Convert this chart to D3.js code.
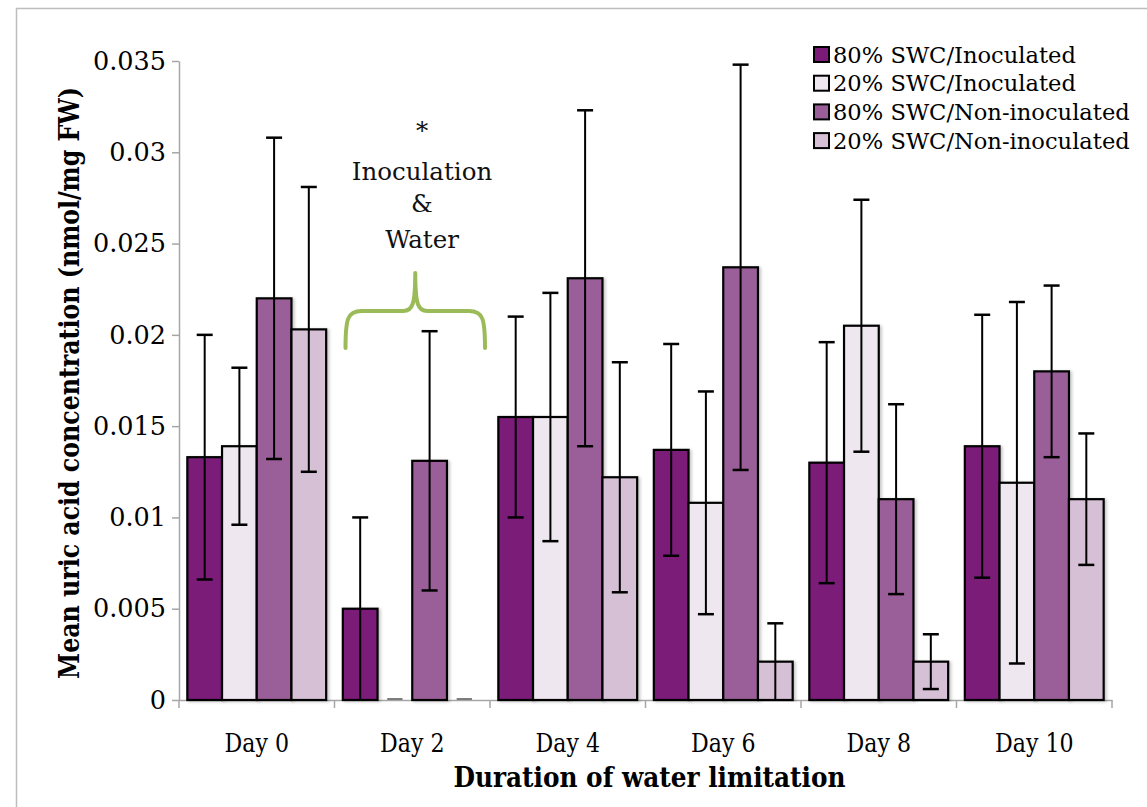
<!DOCTYPE html>
<html>
<head>
<meta charset="utf-8">
<script src="https://cdn.jsdelivr.net/npm/d3@7"></script>
<style>
  html, body { margin: 0; padding: 0; background: #ffffff; }
  svg { display: block; }
</style>
</head>
<body>
<svg id="chart" width="1147" height="807"></svg>
<script>
// ---------------- data ----------------
const categories = ["Day 0", "Day 2", "Day 4", "Day 6", "Day 8", "Day 10"];
const seriesNames = ["80% SWC/Inoculated", "20% SWC/Inoculated", "80% SWC/Non-inoculated", "20% SWC/Non-inoculated"];
const inoc80 = [0.0133, 0.0050, 0.0155, 0.0137, 0.0130, 0.0139];
const inoc20 = [0.0139, 0.0000, 0.0155, 0.0108, 0.0205, 0.0119];
const non80  = [0.0220, 0.0131, 0.0231, 0.0237, 0.0110, 0.0180];
const non20  = [0.0203, 0.0000, 0.0122, 0.0021, 0.0021, 0.0110];
const inoc80Err = [0.0067, 0.0050, 0.0055, 0.0058, 0.0066, 0.0072];
const inoc20Err = [0.0043, 0.0000, 0.0068, 0.0061, 0.0069, 0.0099];
const non80Err  = [0.0088, 0.0071, 0.0092, 0.0111, 0.0052, 0.0047];
const non20Err  = [0.0078, 0.0000, 0.0063, 0.0021, 0.0015, 0.0036];
const yTickValues = [0, 0.005, 0.01, 0.015, 0.02, 0.025, 0.03, 0.035];
const yTickLabels = ["0", "0.005", "0.01", "0.015", "0.02", "0.025", "0.03", "0.035"];
const annotationLines = ["*", "Inoculation", "&", "Water"];
const yTitle = "Mean uric acid concentration (nmol/mg FW)";
const xTitle = "Duration of water limitation";

const seriesValues = [inoc80, inoc20, non80, non20];
const seriesErrors = [inoc80Err, inoc20Err, non80Err, non20Err];
const colors = ["#7b1a79", "#efe7ef", "#9a5f98", "#d6c0d6"];

// ---------------- layout ----------------
const svg = d3.select("#chart");
const serif = "'DejaVu Serif', 'Liberation Serif', serif";
const pLeft = 179, pRight = 1112, pTop = 61, pBottom = 700;

// outer frame
svg.append("rect")
  .attr("x", 16.5).attr("y", 8.5).attr("width", 1150).attr("height", 820)
  .attr("fill", "none").attr("stroke", "#bdbdbd").attr("stroke-width", 1.5);

const defs = svg.append("defs");
const f = defs.append("filter").attr("id", "shadow")
  .attr("x", "-20%").attr("y", "-5%").attr("width", "140%").attr("height", "110%");
f.append("feDropShadow").attr("dx", 2).attr("dy", 1).attr("stdDeviation", 1.5)
  .attr("flood-color", "#000").attr("flood-opacity", 0.22);

const x0 = d3.scaleBand().domain(categories).range([pLeft, pRight]).padding(0);
const x1 = d3.scaleBand().domain(d3.range(seriesNames.length))
  .range([0, x0.bandwidth()]).paddingInner(0).paddingOuter(0.24);
const y = d3.scaleLinear().domain([0, 0.035]).range([pBottom, pTop]);

// y axis
const yAxis = svg.append("g").attr("transform", `translate(${pLeft},0)`)
  .call(d3.axisLeft(y).tickValues(yTickValues)
    .tickFormat((d, i) => yTickLabels[i]).tickSize(7).tickSizeOuter(0).tickPadding(6));
yAxis.select(".domain").attr("stroke", "#a6a6a6").attr("stroke-width", 1.5);
yAxis.selectAll(".tick line").attr("stroke", "#a6a6a6").attr("stroke-width", 1.5);
yAxis.selectAll(".tick text").attr("font-family", serif).attr("font-size", 25.5)
  .attr("fill", "#000");

// x axis line (drawn under the bars)
const xAxis = svg.append("g").attr("transform", `translate(0,${pBottom})`)
  .call(d3.axisBottom(x0).tickSize(0).tickPadding(0).tickSizeOuter(0));
xAxis.select(".domain").attr("stroke", "#a6a6a6").attr("stroke-width", 1.5);
xAxis.selectAll(".tick text").attr("font-family", serif).attr("font-size", 26)
  .attr("fill", "#000").attr("dy", null).attr("y", 52)
  .each(function () {
    const t = d3.select(this);
    const w = this.getComputedTextLength();
    t.attr("textLength", w * 0.85).attr("lengthAdjust", "spacingAndGlyphs");
  });
const boundaries = categories.map(c => x0(c)).concat([x0(categories[categories.length - 1]) + x0.bandwidth()]);
svg.append("g").selectAll("line").data(boundaries).join("line")
  .attr("x1", d => d).attr("x2", d => d)
  .attr("y1", pBottom).attr("y2", pBottom + 8)
  .attr("stroke", "#a6a6a6").attr("stroke-width", 1.5);

// bars
const groups = svg.append("g").selectAll("g")
  .data(categories).join("g")
  .attr("transform", d => `translate(${x0(d)},0)`);

const barData = (c, ci) => seriesNames.map((s, si) => ({
  si, value: seriesValues[si][ci], err: seriesErrors[si][ci]
}));

groups.each(function (c, ci) {
  const g = d3.select(this);
  const data = barData(c, ci);
  g.selectAll("rect.bar").data(data.filter(d => d.value > 0)).join("rect")
    .attr("class", "bar")
    .attr("x", d => x1(d.si))
    .attr("y", d => y(d.value))
    .attr("width", x1.bandwidth())
    .attr("height", d => y(0) - y(d.value))
    .attr("fill", d => colors[d.si])
    .attr("stroke", "#000")
    .attr("stroke-width", 2.2)
    .attr("filter", "url(#shadow)");
  // zero-valued bars appear as a short dark dash on the baseline
  g.selectAll("line.zero").data(data.filter(d => d.value === 0)).join("line")
    .attr("class", "zero")
    .attr("x1", d => x1(d.si) + x1.bandwidth() * 0.28)
    .attr("x2", d => x1(d.si) + x1.bandwidth() * 0.72)
    .attr("y1", y(0) - 1).attr("y2", y(0) - 1)
    .attr("stroke", "#555").attr("stroke-width", 1.5);

  const eb = data.filter(d => d.err > 0);
  const cx = d => x1(d.si) + x1.bandwidth() / 2;
  g.selectAll("line.whisker").data(eb).join("line")
    .attr("class", "whisker")
    .attr("x1", cx).attr("x2", cx)
    .attr("y1", d => y(d.value + d.err)).attr("y2", d => y(Math.max(0, d.value - d.err)))
    .attr("stroke", "#000").attr("stroke-width", 2);
  g.selectAll("line.capTop").data(eb).join("line")
    .attr("class", "capTop")
    .attr("x1", d => cx(d) - 8).attr("x2", d => cx(d) + 8)
    .attr("y1", d => y(d.value + d.err)).attr("y2", d => y(d.value + d.err))
    .attr("stroke", "#000").attr("stroke-width", 2.5);
  g.selectAll("line.capBot").data(eb.filter(d => d.value - d.err > 0.0002)).join("line")
    .attr("class", "capBot")
    .attr("x1", d => cx(d) - 8).attr("x2", d => cx(d) + 8)
    .attr("y1", d => y(d.value - d.err)).attr("y2", d => y(d.value - d.err))
    .attr("stroke", "#000").attr("stroke-width", 2.5);
});

// axis titles
svg.append("text")
  .attr("x", (pLeft + pRight) / 2 + 4).attr("y", 787)
  .attr("text-anchor", "middle")
  .attr("font-family", serif).attr("font-weight", "bold").attr("font-size", 27)
  .attr("textLength", 392).attr("lengthAdjust", "spacingAndGlyphs")
  .text(xTitle);

svg.append("text")
  .attr("transform", "translate(79,383) rotate(-90)")
  .attr("text-anchor", "middle")
  .attr("font-family", serif).attr("font-weight", "bold").attr("font-size", 27)
  .attr("textLength", 592).attr("lengthAdjust", "spacingAndGlyphs")
  .text(yTitle);

// legend
const legend = svg.append("g").attr("transform", "translate(813,46)");
const li = legend.selectAll("g").data(seriesNames).join("g")
  .attr("transform", (d, i) => `translate(0,${i * 28.7})`);
li.append("rect").attr("x", 1).attr("y", 1).attr("width", 15).attr("height", 15)
  .attr("fill", (d, i) => colors[i]).attr("stroke", "#000").attr("stroke-width", 2);
li.append("text").attr("x", 20).attr("y", 16.5)
  .attr("font-family", serif).attr("font-size", 22.6).attr("fill", "#000")
  .text(d => d);

// annotation
const annX = 422;
const annY = [139, 180, 212, 248];
svg.append("g").selectAll("text").data(annotationLines).join("text")
  .attr("x", annX).attr("y", (d, i) => annY[i])
  .attr("text-anchor", "middle")
  .attr("font-family", serif).attr("font-size", 24.5).attr("fill", "#111")
  .text(d => d);

// curly brace spanning Day 2
const bx0 = x0("Day 2") + 11, bx1 = x0("Day 2") + x0.bandwidth() - 5, bmid = (bx0 + bx1) / 2;
const bTop = 273, bLine = 311, bEnd = 348;
const brace = d3.path();
brace.moveTo(bx0, bEnd);
brace.bezierCurveTo(bx0, bLine + 8, bx0 + 2, bLine, bx0 + 16, bLine);
brace.lineTo(bmid - 12, bLine);
brace.bezierCurveTo(bmid - 3, bLine, bmid, bLine - 6, bmid, bTop);
brace.bezierCurveTo(bmid, bLine - 6, bmid + 3, bLine, bmid + 12, bLine);
brace.lineTo(bx1 - 16, bLine);
brace.bezierCurveTo(bx1 - 2, bLine, bx1, bLine + 8, bx1, bEnd);
svg.append("path").attr("d", brace.toString())
  .attr("fill", "none").attr("stroke", "#9bbb59").attr("stroke-width", 4)
  .attr("stroke-linecap", "round").attr("stroke-linejoin", "round");
</script>
</body>
</html>
